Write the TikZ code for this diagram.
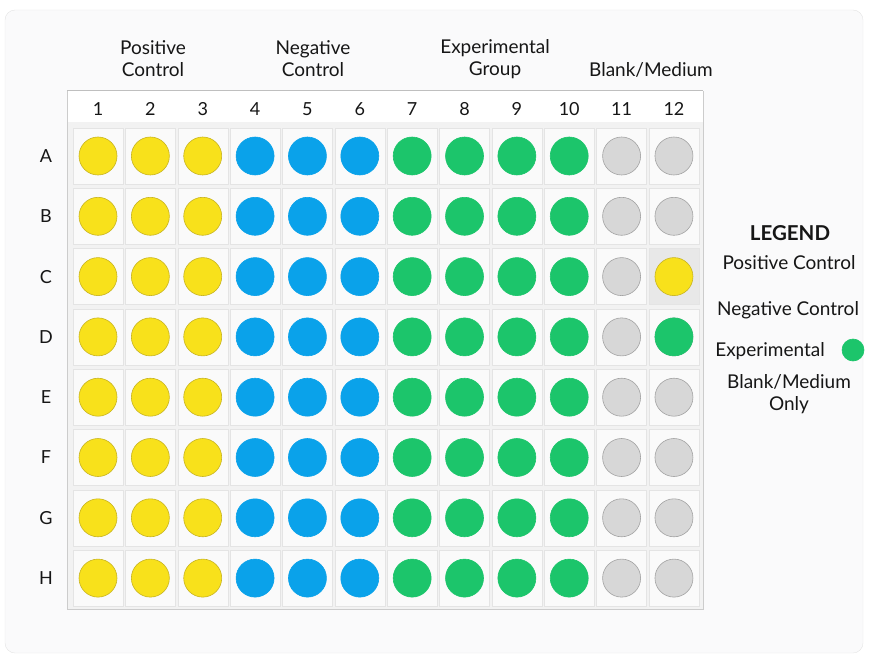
\documentclass[tikz,border=0pt]{standalone}
\usepackage{fontspec}
\setmainfont{Lato}
\usetikzlibrary{positioning}
\definecolor{PosFill}{HTML}{F8E11B}
\definecolor{PosLine}{HTML}{C8B420}
\definecolor{NegFill}{HTML}{0AA2EA}
\definecolor{ExpFill}{HTML}{1CC56B}
\definecolor{BlankFill}{HTML}{D7D7D7}
\definecolor{BlankLine}{HTML}{A3A3A3}
\definecolor{CellFill}{HTML}{FAFAFA}
\definecolor{CellLine}{HTML}{E4E4E4}
\definecolor{CardFill}{HTML}{FAFAFB}
\definecolor{TextCol}{HTML}{161616}

\begin{document}
\begin{tikzpicture}[
      x = 1pt, y = -1pt,
      font = \fontsize{18}{22}\selectfont,
      text = TextCol,
      cell/.style={
        draw = CellLine,
        fill = CellFill,
        minimum width = 50pt,
        minimum height = 56pt,
        inner sep = 0pt,
      },
      well/.style={
        circle,
        inner sep = 0pt,
        minimum size = 38pt,
        line width = 0.6pt,
      },
      poswell/.style={well, fill = PosFill, draw = PosLine},
      negwell/.style={well, fill = NegFill, draw = NegFill},
      expwell/.style={well, fill = ExpFill, draw = ExpFill},
      blankwell/.style={well, fill = BlankFill, draw = BlankLine},
      title/.style={align = center, font = \fontsize{19}{22}\selectfont},
    ]
    \useasboundingbox (0,0) rectangle (875,666);
    \draw[draw = CellLine, fill = CardFill, rounded corners = 10pt]
      (5,10) rectangle (863,653);

    % plate frame and header row
    \draw[draw = black!20, fill = black!5] (67,91) rectangle (703,609);
    \fill[white] (67.5,91.5) rectangle (702.5,122);
    \draw[black!25, line width = 1pt] (67,91) -- (703,91);

    % column numbers
    \foreach \c in {1,...,12}
      \node (col-\c) at ({98 + (\c-1)*52.36}, 109) {\c};

    % wells
    \foreach \r [count = \i] in {A,...,H} {
      \node (row-\r) at (46, {156 + (\i-1)*60.3}) {\r};
      \foreach \c/\g in {1/poswell, 2/poswell, 3/poswell, 4/negwell, 5/negwell, 6/negwell,
                         7/expwell, 8/expwell, 9/expwell, 10/expwell, 11/blankwell, 12/blankwell} {
        \node[cell] (cell-\r-\c) at ({98 + (\c-1)*52.36}, {156 + (\i-1)*60.3}) {};
        \node[\g] (w-\r-\c) at (cell-\r-\c) {};
      }
    }
    % odd wells in column 12
    \node[cell, fill = black!9] at (cell-C-12) {};
    \node[poswell] (w-C-12) at (cell-C-12) {};
    \node[expwell] (w-D-12) at (cell-D-12) {};

    % group titles
    \node[title] (t-pos) at (153,59) {Positive\\Control};
    \node[title] (t-neg) at (313,59) {Negative\\Control};
    \node[title] (t-exp) at (495,59) {Experimental\\Group};
    \node[title] (t-blank) at (651,70) {Blank/Medium};

    % legend
    \node[font = \fontsize{20.5}{24}\selectfont\bfseries] (leg) at (790,233) {LEGEND};
    \node[title] (leg-pos) at (789,263) {Positive Control};
    \node[title] (leg-neg) at (788,310) {Negative Control};
    \node[title] (leg-exp) at (770,351) {Experimental};
    \node[expwell, minimum size = 22pt] (leg-dot) at (853,350) {};
    \node[title] (leg-blank) at (789,394) {Blank/Medium\\Only};
  \end{tikzpicture}
\end{document}
